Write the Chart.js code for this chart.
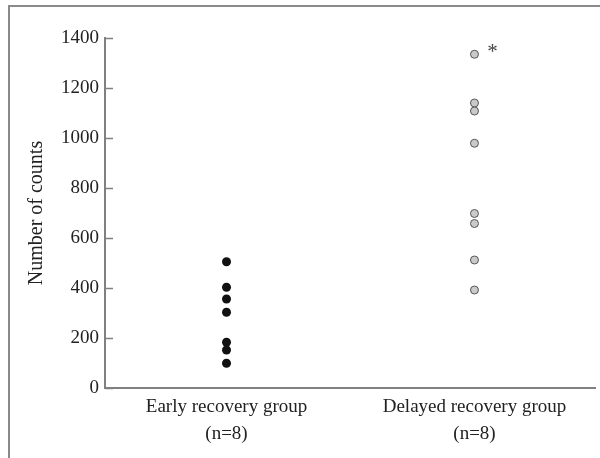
<!DOCTYPE html>
<html lang="en">
<head>
    <meta charset="UTF-8">
    <title>Number of counts by recovery group</title>
    <script src="https://cdn.jsdelivr.net/npm/chart.js"></script>
    <style>
        body { margin: 0; background: #fff; }
        #wrap { position: relative; width: 600px; height: 458px; overflow: hidden; }
        #frame { position: absolute; left: 8px; top: 5px; width: 620px; height: 480px;
                 border-left: 2px solid #8a8a8a; border-top: 2px solid #8a8a8a; }
        canvas { position: absolute; left: 0; top: 0; }
    </style>
</head>
<body>
    <div id="wrap">
        <div id="frame"></div>
        <canvas id="myChart" width="600" height="458"></canvas>
    </div>

    <script>
        // groups on the x axis
        const groups = [['Early recovery group', '(n=8)'], ['Delayed recovery group', '(n=8)']];
        // counts
        const earlyCounts = [505, 403, 356, 303, 183, 152, 99];
        const delayedCounts = [1335, 1140, 1108, 979, 698, 658, 512, 392];
        const yTicks = [0, 200, 400, 600, 800, 1000, 1200, 1400];

        const serif = "'Liberation Serif', 'DejaVu Serif', serif";

        // short tick marks pointing into the plot, plus the asterisk
        const extras = {
            id: 'extras',
            afterDraw(chart) {
                const ctx = chart.ctx;
                const y = chart.scales.y;
                const x = chart.scales.x;
                const left = chart.chartArea.left;
                ctx.save();
                ctx.strokeStyle = '#808080';
                ctx.lineWidth = 1.5;
                yTicks.forEach(v => {
                    const py = Math.round(y.getPixelForValue(v)) + 0.5;
                    ctx.beginPath();
                    ctx.moveTo(left, py);
                    ctx.lineTo(left + 8, py);
                    ctx.stroke();
                });
                // significance mark next to the top delayed point
                const top = Math.max(...delayedCounts);
                ctx.fillStyle = '#444';
                ctx.font = '21px ' + serif;
                ctx.textAlign = 'center';
                ctx.textBaseline = 'middle';
                ctx.fillText('*', x.getPixelForValue(1) + 18, y.getPixelForValue(top) - 2);
                ctx.restore();
            }
        };

        const ctx = document.getElementById('myChart').getContext('2d');
        const myChart = new Chart(ctx, {
            type: 'scatter',
            data: {
                datasets: [{
                    label: 'Early',
                    data: earlyCounts.map(v => ({ x: 0, y: v })),
                    backgroundColor: '#111',
                    borderColor: '#111',
                    pointRadius: 4.5,
                    borderWidth: 0
                }, {
                    label: 'Delayed',
                    data: delayedCounts.map(v => ({ x: 1, y: v })),
                    backgroundColor: '#cacaca',
                    borderColor: '#555',
                    pointRadius: 4,
                    borderWidth: 1
                }]
            },
            options: {
                responsive: false,
                animation: false,
                layout: { padding: { top: 38, right: 3, bottom: 0, left: 0 } },
                plugins: { legend: { display: false }, tooltip: { enabled: false } },
                scales: {
                    x: {
                        type: 'linear',
                        min: -0.49,
                        max: 1.486,
                        afterBuildTicks: s => { s.ticks = groups.map((g, i) => ({ value: i })); },
                        grid: { display: false, drawTicks: false },
                        border: { color: '#808080', width: 2 },
                        ticks: {
                            color: '#222',
                            padding: 6,
                            maxRotation: 0,
                            autoSkip: false,
                            font: { family: serif, size: 19, lineHeight: 1.4 },
                            callback: v => groups[v]
                        },
                        afterFit: s => { s.height = 70; }
                    },
                    y: {
                        min: 0,
                        max: 1400,
                        grid: { display: false, drawTicks: false },
                        border: { color: '#808080', width: 2 },
                        ticks: {
                            stepSize: 200,
                            padding: 6,
                            color: '#222',
                            font: { family: serif, size: 19 },
                            callback: v => String(v)
                        },
                        title: {
                            display: true,
                            text: 'Number of counts',
                            color: '#222',
                            padding: { top: 25, bottom: 0 },
                            font: { family: serif, size: 20 }
                        },
                        afterFit: s => { s.width = 105; }
                    }
                }
            },
            plugins: [extras]
        });
    </script>
</body>
</html>
